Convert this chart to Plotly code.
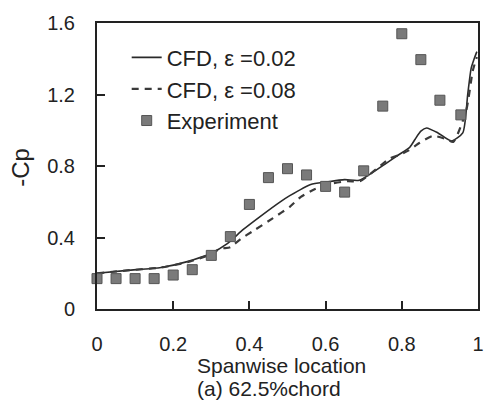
import plotly.graph_objects as go

# CFD, eps = 0.02 (solid)
cfd1_x = [0, 0.08, 0.168, 0.237, 0.298, 0.341, 0.384, 0.428, 0.48, 0.506, 0.561, 0.6, 0.65, 0.688,
          0.752, 0.79, 0.821, 0.835, 0.85, 0.865, 0.895, 0.93, 0.96, 0.973, 0.982, 0.99, 0.997]
cfd1_y = [0.2, 0.216, 0.232, 0.265, 0.31, 0.364, 0.445, 0.517, 0.598, 0.634, 0.697, 0.71, 0.724, 0.72,
          0.805, 0.86, 0.905, 0.95, 0.995, 1.013, 0.985, 0.94, 0.985, 1.2, 1.346, 1.4, 1.44]

# CFD, eps = 0.08 (dashed)
cfd2_x = [0, 0.08, 0.168, 0.237, 0.298, 0.324, 0.35, 0.376, 0.41, 0.462, 0.506, 0.535, 0.571, 0.605,
          0.657, 0.69, 0.72, 0.769, 0.791, 0.817, 0.847, 0.882, 0.917, 0.935, 0.969, 0.986, 0.997]
cfd2_y = [0.2, 0.216, 0.232, 0.262, 0.305, 0.337, 0.346, 0.39, 0.437, 0.508, 0.572, 0.627, 0.67, 0.697,
          0.715, 0.715, 0.76, 0.843, 0.86, 0.886, 0.93, 0.968, 0.95, 0.935, 1.11, 1.33, 1.41]

# Experiment
exp_x = [0, 0.05, 0.1, 0.15, 0.2, 0.25, 0.3, 0.35, 0.4, 0.45, 0.5, 0.55, 0.6, 0.65, 0.7,
         0.75, 0.8, 0.85, 0.9, 0.955]
exp_y = [0.17, 0.17, 0.17, 0.17, 0.19, 0.22, 0.30, 0.405, 0.585, 0.735, 0.785, 0.75, 0.686, 0.654, 0.773,
         1.135, 1.54, 1.395, 1.168, 1.086]

x_ticks = [0, 0.2, 0.4, 0.6, 0.8, 1]
x_labels = ["0", "0.2", "0.4", "0.6", "0.8", "1"]
y_ticks = [0, 0.4, 0.8, 1.2, 1.6]
y_labels = ["0", "0.4", "0.8", "1.2", "1.6"]

FONT = "Liberation Sans, Arial, sans-serif"

fig = go.Figure()
fig.add_trace(go.Scatter(x=cfd1_x, y=cfd1_y, mode="lines", name="CFD, \u03b5 =0.02",
                         line=dict(color="#2a2a2a", width=1.6, shape="spline", smoothing=0.6),
                         legendgroup="a"))
fig.add_trace(go.Scatter(x=cfd2_x, y=cfd2_y, mode="lines", name="CFD, \u03b5 =0.08",
                         line=dict(color="#3a3a3a", width=2.2, dash="7px,6px", shape="spline", smoothing=0.6),
                         legendgroup="b"))
fig.add_trace(go.Scatter(x=exp_x, y=exp_y, mode="markers", name="Experiment",
                         marker=dict(symbol="square", size=10, color="#7a7a7a",
                                     line=dict(color="#555555", width=1)),
                         cliponaxis=False, legendgroup="c"))

W, H = 496, 405
L, R, T, B = 97, 14, 13, 96
pw, ph = W - L - R, H - T - B

def px(x):
    return (x - L) / pw

def py(y):
    return (H - B - y) / ph

fig.update_layout(
    width=W, height=H,
    margin=dict(l=L, r=R, t=T, b=B),
    paper_bgcolor="white", plot_bgcolor="white",
    font=dict(family=FONT, size=20, color="#222"),
    showlegend=True,
    legend=dict(x=px(127), y=py(27), xanchor="left", yanchor="top",
                bgcolor="rgba(0,0,0,0)", font=dict(size=22, family=FONT),
                tracegroupgap=0, itemwidth=30),
    xaxis=dict(range=[0, 1], tickvals=x_ticks, ticktext=x_labels,
               showgrid=False, zeroline=False, showline=True, linecolor="#222", linewidth=2,
               mirror=True, ticks="inside", ticklen=8, tickwidth=1.5, tickcolor="#222",
               ticklabelstandoff=16, tickfont=dict(size=20)),
    yaxis=dict(range=[0, 1.6], tickvals=y_ticks, ticktext=y_labels,
               showgrid=False, zeroline=False, showline=True, linecolor="#222", linewidth=2,
               mirror=True, ticks="inside", ticklen=8, tickwidth=1.5, tickcolor="#222",
               ticklabelstandoff=16, tickfont=dict(size=20)),
    annotations=[
        dict(text="Spanwise location", xref="paper", yref="paper", x=px(196), y=py(367),
             xanchor="left", yanchor="middle", showarrow=False, font=dict(size=21, family=FONT)),
        dict(text="(a) 62.5%chord", xref="paper", yref="paper", x=px(196), y=py(391),
             xanchor="left", yanchor="middle", showarrow=False, font=dict(size=21, family=FONT)),
        dict(text="-Cp", xref="paper", yref="paper", x=px(20), y=py(162),
             xanchor="center", yanchor="middle", showarrow=False, textangle=-90,
             font=dict(size=24, family=FONT)),
    ],
)

fig.write_html("out.html")
